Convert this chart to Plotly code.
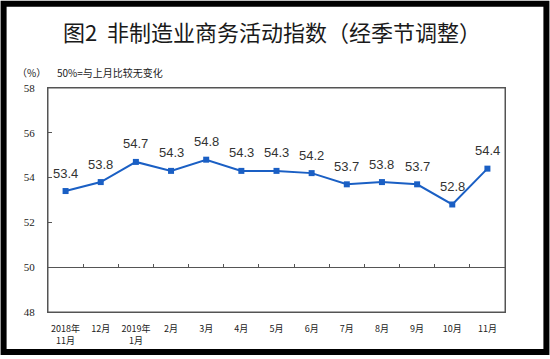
import plotly.graph_objects as go

categories = ["2018年<br>11月", "12月", "2019年<br>1月", "2月", "3月", "4月", "5月",
              "6月", "7月", "8月", "9月", "10月", "11月"]
values = [53.4, 53.8, 54.7, 54.3, 54.8, 54.3, 54.3, 54.2, 53.7, 53.8, 53.7, 52.8, 54.4]
y_ticks = [48, 50, 52, 54, 56, 58]
title_text = "图2  非制造业商务活动指数（经季节调整）"
unit_text = "（%）"
note_text = "50%=与上月比较无变化"

W, H = 550, 359
ml, mr, mt, mb = 47.5, 44.5, 88, 43.5
pw, ph = W - ml - mr, H - mt - mb

def px_x(p):
    return (p - ml) / pw

def px_y(p):
    return (H - mb - p) / ph

line_color = "#1a5fc4"
frame_color = "#555555"

fig = go.Figure()
fig.add_trace(go.Scatter(
    x=categories, y=values, mode="lines+markers",
    line=dict(color=line_color, width=2),
    marker=dict(symbol="square", size=6, color=line_color),
    hoverinfo="skip", showlegend=False,
))
# helper trace for the y=50 axis
fig.add_trace(go.Scatter(
    x=categories, y=values, xaxis="x2", mode="lines",
    line=dict(width=0), opacity=0, hoverinfo="skip", showlegend=False,
))

for c, v in zip(categories, values):
    fig.add_annotation(x=c, y=v, text=f"{v:.1f}", showarrow=False, yshift=18,
                       font=dict(family="Liberation Sans, Arial", size=13, color="#333333"))

fig.add_annotation(xref="paper", yref="paper", x=px_x(272), y=px_y(30),
                   text=title_text, showarrow=False, xanchor="center", yanchor="middle",
                   font=dict(family="Noto Sans CJK SC", size=22, color="#1a1a1a"))
fig.add_annotation(xref="paper", yref="paper", x=px_x(14), y=px_y(72),
                   text=unit_text, showarrow=False, xanchor="left", yanchor="middle",
                   font=dict(family="Noto Sans CJK SC", size=10, color="#222222"))
fig.add_annotation(xref="paper", yref="paper", x=px_x(55), y=px_y(72),
                   text=note_text, showarrow=False, xanchor="left", yanchor="middle",
                   font=dict(family="Noto Sans CJK SC", size=10, color="#222222"))

# plot frame
fig.add_shape(type="rect", xref="paper", yref="paper", layer="above",
              x0=0, x1=1, y0=0, y1=1,
              fillcolor="rgba(0,0,0,0)", line=dict(width=1, color=frame_color))
# black outer frame
fig.add_shape(type="rect", xref="paper", yref="paper", layer="above",
              x0=px_x(3), x1=px_x(547), y0=px_y(356), y1=px_y(2.5),
              fillcolor="rgba(0,0,0,0)", line=dict(width=6, color="black"))

fig.update_layout(
    width=W, height=H,
    margin=dict(l=ml, r=mr, t=mt, b=mb, pad=0),
    paper_bgcolor="white", plot_bgcolor="white",
    showlegend=False,
    xaxis=dict(type="category", range=[-0.5, len(categories) - 0.5],
               showgrid=False, showline=True, mirror=True,
               linecolor=frame_color, linewidth=1, ticks="", zeroline=False,
               ticklabelstandoff=8,
               tickfont=dict(family="Noto Sans CJK SC", size=9, color="#222222"),
               fixedrange=True),
    xaxis2=dict(type="category", overlaying="x", matches="x", anchor="free",
                position=(50 - 48) / (58 - 48), side="bottom",
                showgrid=False, showline=True, linecolor=frame_color, linewidth=1,
                ticks="inside", tickson="boundaries", ticklen=3, tickcolor=frame_color,
                showticklabels=False),
    yaxis=dict(range=[48, 58], tickvals=y_ticks, showgrid=False, showline=True,
               mirror=True, linecolor=frame_color, linewidth=1, ticks="inside",
               ticklen=4, tickcolor=frame_color, zeroline=False,
               ticklabelstandoff=10, fixedrange=True,
               tickfont=dict(family="Liberation Serif, Times New Roman", size=11,
                             color="#222222")),
)

fig.write_html("out.html", config={"displayModeBar": False},
               post_script="document.body.style.margin='0';document.body.style.overflow='hidden';")
